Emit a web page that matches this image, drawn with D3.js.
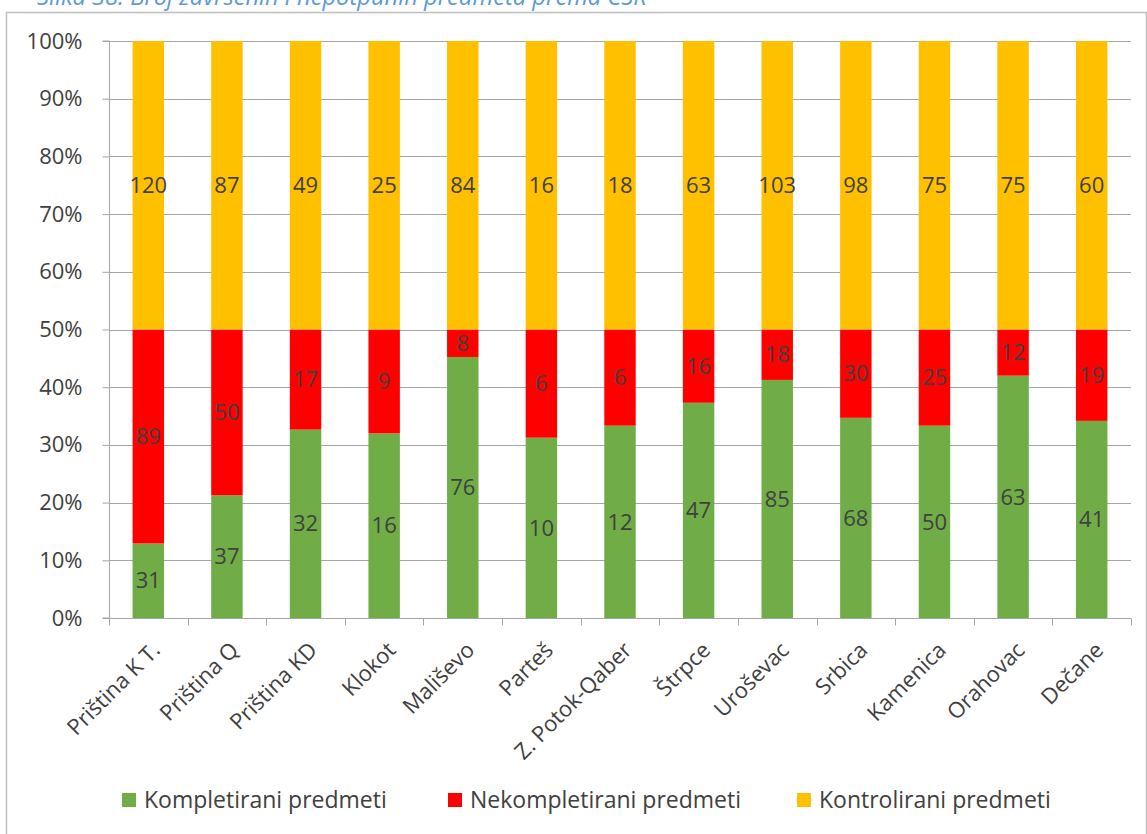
<!DOCTYPE html>
<html>
<head>
<meta charset="utf-8">
<script src="https://cdn.jsdelivr.net/npm/d3@7"></script>
<style>
  body { margin: 0; background: #fff; }
  text { font-family: "Open Sans", sans-serif; }
</style>
</head>
<body>
<div id="chart"></div>
<script>
// chart values
const categories = ['Priština K T.', 'Priština Q', 'Priština KD', 'Klokot', 'Mališevo', 'Parteš',
  'Z. Potok-Qaber', 'Štrpce', 'Uroševac', 'Srbica', 'Kamenica', 'Orahovac', 'Dečane'];
const kompletirani = [31, 37, 32, 16, 76, 10, 12, 47, 85, 68, 50, 63, 41];
const nekompletirani = [89, 50, 17, 9, 8, 6, 6, 16, 18, 30, 25, 12, 19];
const kontrolirani = [120, 87, 49, 25, 84, 16, 18, 63, 103, 98, 75, 75, 60];
const seriesNames = ['Kompletirani predmeti', 'Nekompletirani predmeti', 'Kontrolirani predmeti'];
const yTicks = [0, 0.1, 0.2, 0.3, 0.4, 0.5, 0.6, 0.7, 0.8, 0.9, 1];

const W = 1147, H = 834;
const colors = ['#70ad47', '#ff0000', '#ffc000'];

const svg = d3.select('#chart').append('svg')
  .attr('width', W).attr('height', H);

// caption (cut off at top, as in the source)
svg.append('text')
  .attr('x', 37).attr('y', 5)
  .attr('font-size', 23.7).attr('font-style', 'italic')
  .attr('fill', '#5b9bd5')
  .text('Slika 38: Broj završenih i nepotpunih predmeta prema CSR');

// chart frame
svg.append('rect')
  .attr('x', 6.5).attr('y', 12.5).attr('width', W - 7).attr('height', H)
  .attr('fill', 'none').attr('stroke', '#bfbfbf').attr('stroke-width', 1.5);

const plot = { left: 109, right: 1131, top: 41, bottom: 618 };

const data = categories.map((c, i) => ({
  name: c, a: kompletirani[i], b: nekompletirani[i], c: kontrolirani[i],
}));

const stack = d3.stack().keys(['a', 'b', 'c']).offset(d3.stackOffsetExpand);
const layers = stack(data);

const x = d3.scaleBand().domain(categories).range([plot.left, plot.right]).paddingInner(0.6).paddingOuter(0.3);
const xTick = d3.scaleBand().domain(categories).range([plot.left, plot.right]);
const y = d3.scaleLinear().domain([0, 1]).range([plot.bottom, plot.top]);

// gridlines
svg.append('g').selectAll('line').data(yTicks).join('line')
  .attr('x1', plot.left).attr('x2', plot.right)
  .attr('y1', d => Math.round(y(d)) + 0.5).attr('y2', d => Math.round(y(d)) + 0.5)
  .attr('stroke', '#a6a6a6').attr('stroke-width', 1);

// bars
const series = svg.append('g').selectAll('g').data(layers).join('g')
  .attr('fill', (d, i) => colors[i]);
series.selectAll('rect').data(d => d).join('rect')
  .attr('x', d => x(d.data.name))
  .attr('width', x.bandwidth())
  .attr('y', d => y(d[1]))
  .attr('height', d => y(d[0]) - y(d[1]));

// data labels
layers.forEach((layer) => {
  svg.append('g').selectAll('text').data(layer).join('text')
    .attr('x', d => x(d.data.name) + x.bandwidth() / 2)
    .attr('y', d => (y(d[0]) + y(d[1])) / 2)
    .attr('dy', '0.35em')
    .attr('text-anchor', 'middle')
    .attr('font-size', 22)
    .attr('fill', '#404040')
    .text(d => d.data[layer.key]);
});

// y axis
const yAxis = svg.append('g')
  .attr('transform', `translate(${plot.left + 0.5},0)`)
  .call(d3.axisLeft(y).tickValues(yTicks).tickFormat(d3.format('.0%')).tickSize(7).tickPadding(20));
yAxis.select('.domain').attr('stroke', '#a6a6a6').attr('d', `M-7,${plot.top}H0V${plot.bottom}H-7`);
yAxis.selectAll('.tick line').attr('stroke', '#a6a6a6');
yAxis.selectAll('.tick text').attr('font-size', 22).attr('fill', '#404040').attr('font-family', '"Open Sans", sans-serif');

// x axis
const xAxisG = svg.append('g').attr('transform', `translate(0,${plot.bottom + 0.5})`);
xAxisG.append('line').attr('x1', plot.left).attr('x2', plot.right).attr('stroke', '#a6a6a6');
const tickPos = categories.map(c => xTick(c)).concat([plot.right]);
xAxisG.selectAll('line.tk').data(tickPos).join('line').attr('class', 'tk')
  .attr('x1', d => Math.round(d) + 0.5).attr('x2', d => Math.round(d) + 0.5)
  .attr('y1', 0).attr('y2', 7).attr('stroke', '#a6a6a6');
xAxisG.selectAll('text').data(categories).join('text')
  .attr('transform', d => `translate(${xTick(d) + xTick.bandwidth() / 2 + 13},${33}) rotate(-45)`)
  .attr('text-anchor', 'end')
  .attr('font-size', 22)
  .attr('fill', '#404040')
  .text(d => d);

// legend
const legendX = [122, 448, 797];
const legend = svg.append('g').selectAll('g').data(seriesNames).join('g')
  .attr('transform', (d, i) => `translate(${legendX[i]},800)`);
legend.append('rect').attr('x', 0).attr('y', -7).attr('width', 14).attr('height', 14)
  .attr('fill', (d, i) => colors[i]);
legend.append('text').attr('x', 22).attr('dy', '0.35em')
  .attr('font-size', 23).attr('fill', '#404040').text(d => d);
</script>
</body>
</html>
